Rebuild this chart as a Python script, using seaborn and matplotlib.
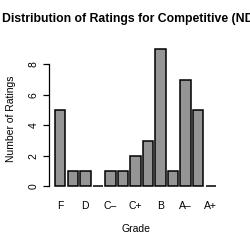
import matplotlib
matplotlib.use("Agg")
import matplotlib.pyplot as plt
import seaborn as sns
import pandas as pd

grades = ["F", "D-", "D", "D+", "C-", "C", "C+", "B-", "B", "B+", "A-", "A", "A+"]
counts = [5, 1, 1, 0, 1, 1, 2, 3, 9, 1, 7, 5, 0]
tick_labels = ["F", "", "D", "", "C\u2013", "", "C+", "", "B", "", "A\u2013", "", "A+"]
yticks = [0, 2, 4, 6, 8]

sns.set_style("white")
plt.rcParams['font.family'] = ['Liberation Sans', 'DejaVu Sans']
plt.rcParams['text.color'] = 'black'
plt.rcParams['axes.labelcolor'] = 'black'
plt.rcParams['xtick.color'] = 'black'
plt.rcParams['ytick.color'] = 'black'

df = pd.DataFrame({"Grade": grades, "Count": counts})

fig = plt.figure(figsize=(2.5, 2.5), dpi=100)
ax = fig.add_axes([49/250, 60/250, 174/250, 142/250])

sns.barplot(data=df, x="Grade", y="Count", order=grades, color="#959595",
            saturation=1, width=0.833, edgecolor="black", linewidth=1.1, ax=ax)

ax.set_xlim(-0.892, 12.97)
ax.set_ylim(-0.23, 9.08)

for s in ["top", "right", "bottom"]:
    ax.spines[s].set_visible(False)
ax.spines["left"].set_bounds(0, 8)
ax.spines["left"].set_linewidth(0.9)
ax.spines["left"].set_color("black")

ax.set_yticks(yticks)
ax.set_yticklabels([str(v) for v in yticks], rotation=90, va="center", fontsize=7.5)
ax.tick_params(axis="y", length=4.5, width=0.9, color="black", pad=3, left=True)
ax.set_xticks(range(len(grades)))
ax.set_xticklabels(tick_labels, fontsize=7.5)
ax.tick_params(axis="x", length=0, pad=8)

ax.set_xlabel("Grade", fontsize=7.5, labelpad=9)
ax.set_ylabel("Number of Ratings", fontsize=7.5, labelpad=9)
fig.text(138/250, 1 - 19/250, "Distribution of Ratings for Competitive (NDSS)",
         ha="center", va="center", fontsize=8.8, fontweight="bold")

fig.savefig("out.png", dpi=100, facecolor="white")
